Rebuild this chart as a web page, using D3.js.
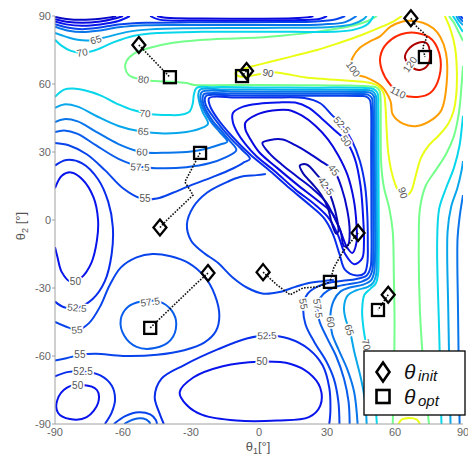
<!DOCTYPE html>
<html>
<head>
<meta charset="utf-8">
<script src="https://cdn.jsdelivr.net/npm/d3@7"></script>
<style>
  body { margin: 0; background: #fff; }
  text { font-family: "Liberation Sans", Arial, sans-serif; }
</style>
</head>
<body>
<svg id="chart" width="468" height="457"></svg>
<script>
// contour lines, [theta1, theta2] in degrees
const level425 = [
  [[18,24],[21,24.5],[25.5,20],[29.5,15],[32.5,8],[34.5,0],[35,-5],[34,-6],[32,-1],[30.5,5],[27.5,11],[23.5,16],[19.5,20.5],[18,24]]
]
const level45 = [
  [[-90,89.6],[-85,88.7],[-78,88.3],[-70,88.8],[-65,89.5],[-63,90]],
  [[1.5,34],[5,35.3],[10.5,35.5],[16,33],[22,29.5],[28,25.5],[33,22],[36.5,14],[39,4],[40,-5],[39.3,-11],[37.5,-11.5],[36,-5],[33,1.5],[29.5,8],[24,13.5],[17,19],[10,24.5],[4.5,29.5],[1.5,34]]
]
const level475 = [
  [[-90,88.6],[-85,87.5],[-78,87],[-70,87.6],[-64,88.8],[-60,90]],
  [[-45,90],[-41,89.2],[-25,88.9],[0,88.8],[15,89],[22,89.5],[24,90]],
  [[-6,43],[-1,46.5],[6,48.3],[13,48.5],[19,46],[25,41.5],[30.5,35.5],[35,28.5],[39,20],[41.8,9],[43,-2],[43,-10],[41.2,-14.5],[38.8,-12],[36,-5],[32.3,3],[26,8.5],[17,15.5],[8,23],[0,30],[-4,36],[-6,40],[-6,43]]
]
const level50 = [
  [[-90,87.6],[-85,86.3],[-78,85.7],[-70,86.3],[-62,87.8],[-57,90]],
  [[-48,90],[-44,88.4],[-25,88],[0,88],[18,88.2],[27,88.8],[30,90]],
  [[-90,14],[-87,19.5],[-83,21],[-78,18],[-73,10],[-71,0],[-71.5,-9],[-74,-19],[-78.5,-25.5],[-83,-27.3],[-87,-23],[-89,-16],[-90,-12]],
  [[-89,-79.5],[-84.7,-74],[-77.6,-72.8],[-71.5,-75],[-71,-80.7],[-76,-87],[-83.4,-87.8],[-88.7,-85],[-89,-79.5]],
  [[-35,-76],[-29,-69.5],[-16,-64.5],[0,-62.5],[14,-63.5],[22,-67.5],[27,-74],[27,-82],[22,-87],[8,-88.5],[-10,-88.5],[-25,-86],[-32,-81.5],[-35,-76]],
  [[-11.5,47.2],[-7,50],[0,51.3],[8,51.8],[16,51.8],[22,49.5],[28,44.5],[33.5,39.5],[38.4,34.9],[42.3,27],[44.8,15],[46,0],[46.3,-10],[45.5,-17],[42,-19.5],[38,-15],[35,-7],[31,0.5],[25,6.5],[16,13.5],[7,21.5],[-1,28],[-6,33.5],[-9.5,38.5],[-11.5,43],[-11.5,47.2]]
]
const level525 = [
  [[-90,24],[-85,26.5],[-78,25],[-71,18],[-66.5,8],[-64.5,-3],[-65,-15],[-68,-27],[-73.5,-35],[-80.3,-38.8],[-86,-38.5],[-90,-36]],
  [[-90,-69],[-84,-67],[-77.6,-66.8],[-70,-68.5],[-65,-73],[-63.5,-79],[-65,-85],[-68,-90]],
  [[-42,-90],[-44,-85],[-46,-78],[-43,-70],[-33,-64],[-18,-57],[-5,-52.2],[3.5,-51],[13,-52.3],[22,-57],[28,-64],[31,-74],[31.5,-84],[31,-90]],
  [[-22,53.8],[-10,54],[5,54],[20,53.8],[27,51.5],[32,46.5],[36.6,41.9],[41,35],[44.5,26],[46.8,15],[47.8,2],[48,-10],[47.8,-19],[46.5,-23.5],[43,-24.5],[38,-22],[35.5,-15],[32.5,-6],[28.5,1],[22.5,6.5],[13.5,14],[5,21.5],[-4,29],[-11.5,36.5],[-18.5,45],[-21.5,50],[-22,53.8]]
]
const level55 = [
  [[-90,86.4],[-84,84.8],[-78,84.2],[-71,84.8],[-62,86.2],[-50,87],[-30,87.2],[-10,87.2],[10,87.3],[25,87.6],[34,88.6],[38,90]],
  [[-90,34],[-84,33],[-76,29],[-68,22],[-60,14],[-52,9.5],[-45,9.5],[-38,12],[-31.8,14.6],[-20.3,19],[-12,22.5],[-6.5,25.5],[-4,27],[-7.5,31],[-12.3,35.8],[-19.3,44.3],[-23.5,50.8],[-23.8,54],[-23,55],[-10,54.9],[10,54.85],[30,54.8],[45,54.7],[47.3,54.4],[48.9,53],[49.4,50],[49.5,30],[49.6,0],[49.6,-15],[49.2,-21],[47.5,-24.5],[43,-26],[37,-26.8],[32,-27.5],[26,-29.3],[21.5,-32.5],[19.6,-38],[20.5,-46],[24.5,-54],[29.5,-62],[33,-70],[35,-80],[35.5,-90]],
  [[-90,-45],[-84,-47.5],[-80,-48.5],[-75,-45.5],[-70,-38],[-66,-29],[-61,-21],[-54,-16.5],[-47,-15],[-39,-16],[-31,-19],[-24,-25],[-19.5,-33],[-17.5,-42],[-19,-49],[-24,-54],[-33,-57.5],[-45,-59.5],[-60,-60],[-72,-59],[-79,-59.5],[-85,-61],[-90,-62]],
  [[3,20.3],[-1,19.8],[-8.4,19],[-14,16.8],[-23,12],[-29,5.7],[-31.8,-2],[-30,-9],[-25,-14],[-18,-19],[-12,-25],[-5,-30],[2,-32.5],[9,-31.8],[16,-29.5],[22,-27.8],[28,-27],[33,-26.5]],
  [[-64,-90],[-59,-86.5],[-53,-84.8],[-48,-85.8],[-45.5,-88.2],[-45,-90]],
  [[89,90],[89.6,89.2],[90,88.8]]
]
const level575 = [
  [[-90,38.8],[-86,39.5],[-80,38],[-72,33],[-62,27],[-52,23.5],[-42,22.8],[-32,23.3],[-22,25],[-15,27.5],[-10,30.8],[-13.3,35.3],[-16.8,39.5],[-20.3,43.5],[-24.5,51],[-24.7,54.8],[-24,55.7],[-10,55.8],[10,55.7],[30,55.7],[45,55.6],[48,55.3],[49.8,53.8],[50.2,50],[50.3,30],[50.4,0],[50.4,-15],[50,-22],[48.5,-25.5],[45,-27.3],[39,-28.4],[33,-29.8],[28.5,-32.5],[26,-36.5],[26.5,-44],[30,-52],[34,-60],[37.5,-70],[39.5,-80],[40,-90]],
  [[-61,-44],[-58,-38.5],[-52,-36],[-44,-36],[-38.5,-40],[-36.5,-46],[-39,-53],[-46,-56.5],[-54,-56],[-59.5,-51],[-61,-44]],
  [[-59.5,-90],[-55.5,-88],[-51,-87.6],[-48.5,-89],[-48,-90]]
]
const level60 = [
  [[-90,85.3],[-84,83.5],[-78,82.9],[-71,83.5],[-62,85],[-50,85.9],[-30,86],[-10,86],[10,86],[28,86.3],[38,87.3],[43,90]],
  [[-90,43.2],[-86,44.5],[-80,43.5],[-72,39],[-62,33.5],[-52,30],[-40,29.7],[-30,30.2],[-22,31.8],[-16.5,33.5],[-14,34.5],[-17.5,39],[-21.3,43.5],[-25.3,51],[-25.8,55],[-25,56.6],[-10,56.7],[10,56.6],[30,56.6],[45,56.5],[49,56.2],[50.7,54.5],[51,50],[51.1,30],[51.2,0],[51.2,-15],[50.8,-23],[49.5,-26.5],[46,-28.5],[40,-29.8],[36,-31.5],[33,-35.5],[31.5,-42],[32.2,-50],[35,-57],[39,-66],[42,-76],[43.5,-90]],
  [[88.5,-90],[87.8,-40],[87.6,-8],[88.6,2],[89.5,8],[90,11]],
  [[88,90],[89,88.5],[90,87.5]]
]
const level65 = [
  [[-90,82.5],[-85,80.8],[-80,79.5],[-74,79.3],[-67,80.8],[-58,83],[-48,84.1],[-30,84.6],[-10,84.7],[10,84.8],[30,85],[41,86.3],[46,88.5],[47.5,90]],
  [[-90,49.5],[-86,51],[-80,50],[-72,46],[-62,41.5],[-52,39],[-42,38.2],[-32,38.8],[-25.5,40.5],[-22.5,42.5],[-24.8,47.5],[-26.3,51.8],[-26.8,55.2],[-26,57.5],[-15,57.6],[10,57.5],[30,57.5],[45,57.4],[49.8,57],[51.5,55],[51.8,50],[51.9,30],[52,0],[52,-15],[51.7,-24],[50.5,-27.5],[48,-29.5],[43,-31],[39,-33.5],[37.5,-38.5],[38.3,-44],[40,-48.5],[42,-58],[45,-70],[46.8,-80],[47.5,-90]],
  [[84.5,-90],[83.5,-40],[83.2,-5],[84.8,6],[87.5,14],[89.4,22],[90,26]],
  [[87,90],[88.3,87.8],[90,86]]
]
const level70 = [
  [[-90,79.5],[-87,76.8],[-83,74.6],[-78,73.8],[-72,75],[-64,78.5],[-55,81.3],[-44,82.5],[-25,83],[-5,83.1],[15,83],[32,83],[42,84],[48,86.5],[50.5,90]],
  [[-90,54.3],[-86,57.5],[-82,58],[-77,57.2],[-70,55],[-62,51],[-55.6,48.5],[-48,46.8],[-40,46.3],[-34,46.5],[-30.5,48],[-29.2,51.5],[-28.7,55.5],[-27.5,58.3],[-20,58.6],[0,58.5],[25,58.4],[45,58.3],[50.5,57.8],[52.3,56],[52.6,50],[52.7,30],[52.8,5],[52.8,-15],[52.5,-24],[51.5,-28],[49,-30.5],[46.5,-33],[45.5,-40],[46,-47],[47.2,-54.7],[49,-65],[51,-78],[52,-90]],
  [[80.5,-90],[79.5,-50],[78.6,-10],[79.5,5],[82.5,14],[86,23],[88.5,33],[89.6,42],[90,46]],
  [[85.5,90],[87.2,87.5],[89,84.5],[90,83]]
]
const level80 = [
  [[52,90],[48,87.8],[40,85.5],[25,83],[10,81.3],[0,80.5],[-15,80],[-26,79.4],[-38,78.2],[-48,76],[-55,73.5],[-58.5,70],[-59,67],[-57.5,64],[-53,62.2],[-46,61.3],[-38,61],[-32,60.4],[-28.5,59.6],[-20,59.5],[0,59.6],[20,59.5],[40,59.3],[48,59],[51.5,58.6],[53.2,57],[53.6,54],[53.7,40],[53.9,25],[55,15],[57.5,5],[59,-5],[59.5,-25],[59.8,-45],[59.5,-70],[59,-90]],
  [[75,-90],[73,-70],[71,-40],[70.5,-10],[71,5],[73.5,15],[78,22],[82.5,29],[86,37],[88.3,48],[89.4,60],[90,68]],
  [[83.8,90],[86,87],[88.3,82.5],[90,79]]
]
const level90 = [
  [[63,90],[60,88],[54.7,85.5],[45,81.5],[35,78],[25.6,75],[15,72.3],[5,69.8],[-3,67.8],[-8.5,66],[-10.5,64.6],[-8,63.2],[0,64.3],[6,65.2],[12,64.4],[20,63],[30,62.1],[40,61.4],[48,60.7],[52.5,59.2],[55,56],[55.8,50],[56.3,40],[57,30],[58.3,22],[60,16],[62,12],[64.5,10.5],[67,12.5],[69,19],[71.5,27.5],[75,33],[79.5,37.5],[83.5,42.5],[85.8,48],[87,55],[87.3,65],[86.5,76],[84.5,84],[82,90]],
  [[61.5,-90],[63,-88],[66,-87.3],[69.5,-88],[71,-90]]
]
const level100 = [
  [[40,67],[41.5,72],[44.5,76],[49,78.8],[53.4,81],[58,85.3],[63,87.5],[68,87.8],[72.3,87],[77,84.5],[80,80.7],[82.5,73.7],[82.8,60.4],[80.5,48.5],[76.7,44.5],[69.7,41.5],[63.5,42.5],[59,46.5],[58,52.5],[54,59],[47,63],[42,64.5],[40,67]]
]
const level110 = [
  [[53.5,72],[56.5,78],[65,82.5],[75,80.7],[79.5,73.7],[79.5,63],[75.5,56],[70,54.3],[63.5,55.2],[58,59.6],[54.2,66.2],[53.5,72]]
]
const level120 = [
  [[65.7,75],[69.7,78],[74,78],[75.4,73.7],[74.5,68.4],[71,66.2],[68,67],[64.4,71.5],[65.7,75]]
]

// inline contour labels: text, theta1, theta2, rotation
const contourLabels = [
  ["65",-72,79.5,-18],["70",-78,73.9,-10],["80",-51,62,8],["90",4,64.9,12],
  ["100",41.5,66.6,55],["110",61.3,56.3,28],["120",66.6,68.6,-55],["90",63.5,12,72],
  ["52.5",36.6,41.9,48],["50",38.4,34.9,55],["45",33,22,50],["42.5",29.5,15,55],
  ["70",-50.3,47,4],["65",-51,39,5],["60",-51.6,30,2],["57.5",-52.5,23.3,2],["55",-50.3,9.5,0],
  ["50",-81,-27.3,0],["52.5",-80.3,-38.8,5],["55",-80.3,-48.5,-5],["55",-79,-59.5,0],
  ["52.5",-77.6,-66.8,0],["50",-80,-72.8,0],["57.5",-48,-36.2,-8],
  ["52.5",3.5,-51,-3],["50",1.3,-62.5,0],
  ["55",19.6,-37,80],["57.5",26,-39,82],["60",31.6,-45,82],["65",39.8,-48.5,72],["70",47.3,-55,76]
]

const initPts = [[-53,77.2],[-5.5,65.7],[67,89],[-43.7,-3.3],[-22.5,-23.4],[1.8,-23],[43.7,-5.7],[57,-33]]
const optPts = [[-39.3,63],[-7.5,63.5],[73.2,71.9],[-26,29.6],[-48,-47.6],[31.3,-27.3],[52.5,-39.7]]
const searchPaths = [
  [[-53,77.2],[-39.3,63]],
  [[-5.5,65.7],[-7.5,63.5]],
  [[67,89],[69.7,85.1],[72.3,82.9],[74,80.7],[73.2,78.5],[72.3,76.3],[73.2,71.9]],
  [[-26,29.6],[-32.7,16.8],[-29.1,11],[-40.6,0],[-43.7,-3.3]],
  [[-22.5,-23.4],[-27.4,-27.8],[-48,-47.6]],
  [[1.8,-23],[8,-28.7],[13.7,-33],[19.4,-30],[26,-29.5],[31.3,-27.3]],
  [[43.7,-5.7],[37,-14],[33,-21],[31.3,-27.3]],
  [[57,-33],[52.5,-39.7]]
]

const ticks = [-90, -60, -30, 0, 30, 60, 90]

const levels = [
  [120, level120], [110, level110], [100, level100], [90, level90], [80, level80],
  [70, level70], [65, level65], [60, level60], [57.5, level575], [55, level55],
  [52.5, level525], [50, level50], [47.5, level475], [45, level45], [42.5, level425]
]

const svg = d3.select("#chart")

const x = d3.scaleLinear().domain([-90, 90]).range([55, 463])
const y = d3.scaleLinear().domain([-90, 90]).range([424, 16])

// matlab style jet colormap, blues softened a bit like the printed figure
function jet(v) {
  const t = Math.max(0, Math.min(1, (v - 38) / 86))
  const c = u => Math.round(255 * Math.max(0, Math.min(1, 1.5 - Math.abs(4 * t - u))))
  const base = d3.rgb(c(3), c(2), c(1))
  if (v <= 72) return d3.interpolateRgb(base, "#2a2a90")(0.18)
  return base.formatHex()
}

svg.append("defs").append("clipPath").attr("id", "plotclip")
  .append("rect")
  .attr("x", x(-90)).attr("y", y(90))
  .attr("width", x(90) - x(-90)).attr("height", y(-90) - y(90))

const openLine = d3.line().x(d => x(d[0])).y(d => y(d[1])).curve(d3.curveCatmullRom.alpha(0.5))
const loopLine = d3.line().x(d => x(d[0])).y(d => y(d[1])).curve(d3.curveCatmullRomClosed.alpha(0.5))

function isClosed(p) {
  const a = p[0], b = p[p.length - 1]
  return a[0] === b[0] && a[1] === b[1]
}

const plot = svg.append("g").attr("clip-path", "url(#plotclip)")

levels.forEach(([v, lines]) => {
  plot.append("g")
    .selectAll("path")
    .data(lines)
    .enter()
    .append("path")
      .attr("d", p => isClosed(p) ? loopLine(p.slice(0, -1)) : openLine(p))
      .attr("fill", "none")
      .attr("stroke", jet(v))
      .attr("stroke-width", 2)
      .attr("stroke-linejoin", "round")
})

// labels, with a white halo to cut the line like clabel does
svg.append("g")
  .selectAll("text")
  .data(contourLabels)
  .enter()
  .append("text")
    .attr("transform", d => "translate(" + x(d[1]) + "," + y(d[2]) + ") rotate(" + d[3] + ")")
    .attr("text-anchor", "middle")
    .attr("dy", "0.35em")
    .attr("font-size", 10)
    .attr("fill", "#555")
    .attr("stroke", "#fff")
    .attr("stroke-width", 3)
    .attr("paint-order", "stroke")
    .text(d => d[0])

// search paths
const pathLine = d3.line().x(d => x(d[0])).y(d => y(d[1]))
svg.append("g")
  .selectAll("path")
  .data(searchPaths)
  .enter()
  .append("path")
    .attr("d", pathLine)
    .attr("fill", "none")
    .attr("stroke", "#111")
    .attr("stroke-width", 1.6)
    .attr("stroke-dasharray", "1.6,1.4")

function diamondPath(cx, cy, w, h) {
  return "M" + cx + "," + (cy - h) + "L" + (cx + w) + "," + cy + "L" + cx + "," + (cy + h) + "L" + (cx - w) + "," + cy + "Z"
}

svg.append("g")
  .selectAll("path")
  .data(initPts)
  .enter()
  .append("path")
    .attr("d", d => diamondPath(x(d[0]), y(d[1]), 6.5, 8))
    .attr("fill", "none")
    .attr("stroke", "#000")
    .attr("stroke-width", 2.3)

svg.append("g")
  .selectAll("rect")
  .data(optPts)
  .enter()
  .append("rect")
    .attr("x", d => x(d[0]) - 6)
    .attr("y", d => y(d[1]) - 6)
    .attr("width", 12)
    .attr("height", 12)
    .attr("fill", "none")
    .attr("stroke", "#000")
    .attr("stroke-width", 2.3)

// axes
const axisG = svg.append("g")
axisG.append("line")
  .attr("x1", x(-90)).attr("x2", x(-90)).attr("y1", y(90)).attr("y2", y(-90))
  .attr("stroke", "#a0a0a0").attr("stroke-width", 1)
axisG.append("line")
  .attr("x1", x(-90)).attr("x2", x(90)).attr("y1", y(-90)).attr("y2", y(-90))
  .attr("stroke", "#a0a0a0").attr("stroke-width", 1)

axisG.selectAll(".ytick")
  .data(ticks)
  .enter()
  .append("line")
    .attr("x1", x(-90) - 3).attr("x2", x(-90))
    .attr("y1", d => y(d)).attr("y2", d => y(d))
    .attr("stroke", "#a0a0a0")

axisG.selectAll(".ylab")
  .data(ticks)
  .enter()
  .append("text")
    .attr("x", x(-90) - 4)
    .attr("y", d => y(d))
    .attr("dy", "0.35em")
    .attr("text-anchor", "end")
    .attr("font-size", 11)
    .attr("fill", "#666")
    .text(d => d)

axisG.selectAll(".xlab")
  .data(ticks)
  .enter()
  .append("text")
    .attr("x", d => x(d))
    .attr("y", y(-90) + 12)
    .attr("text-anchor", "middle")
    .attr("font-size", 11)
    .attr("fill", "#666")
    .text(d => d)

const xTitle = svg.append("text")
  .attr("x", 258).attr("y", 451)
  .attr("text-anchor", "middle")
  .attr("font-size", 13)
  .attr("fill", "#555")
xTitle.append("tspan").text("θ")
xTitle.append("tspan").attr("dy", 3).attr("font-size", 9).text("1")
xTitle.append("tspan").attr("dy", -3).text("[°]")

const yTitle = svg.append("text")
  .attr("transform", "translate(25,226) rotate(-90)")
  .attr("text-anchor", "middle")
  .attr("font-size", 13)
  .attr("fill", "#555")
yTitle.append("tspan").text("θ")
yTitle.append("tspan").attr("dy", 3).attr("font-size", 9).text("2")
yTitle.append("tspan").attr("dy", -3).text(" [°]")

// legend
const legend = svg.append("g")
legend.append("rect")
  .attr("x", 364).attr("y", 351)
  .attr("width", 101).attr("height", 64)
  .attr("fill", "#fff")
  .attr("stroke", "#000")
  .attr("stroke-width", 1.3)

legend.append("path")
  .attr("d", diamondPath(383, 372, 6.5, 9.5))
  .attr("fill", "none").attr("stroke", "#000").attr("stroke-width", 2.6)
legend.append("rect")
  .attr("x", 376.5).attr("y", 390).attr("width", 13).attr("height", 13)
  .attr("fill", "none").attr("stroke", "#000").attr("stroke-width", 2.6)

const legendItems = [["init", 379], ["opt", 404]]
legendItems.forEach(([sub, by]) => {
  legend.append("text")
    .attr("x", 404).attr("y", by)
    .attr("font-family", "'Liberation Serif', 'Times New Roman', serif")
    .attr("font-style", "italic")
    .attr("font-size", 21)
    .attr("fill", "#111")
    .text("θ")
  legend.append("text")
    .attr("x", 418).attr("y", by + 2)
    .attr("font-family", "'Liberation Serif', 'Times New Roman', serif")
    .attr("font-style", "italic")
    .attr("font-size", 15)
    .attr("fill", "#111")
    .text(sub)
})
</script>
</body>
</html>
